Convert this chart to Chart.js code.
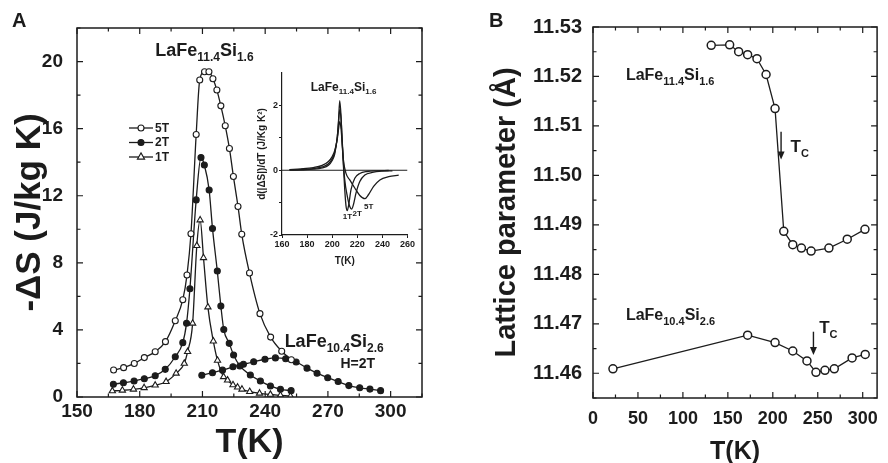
<!DOCTYPE html>
<html>
<head>
<meta charset="utf-8">
<script src="https://cdn.jsdelivr.net/npm/chart.js@4.4.0/dist/chart.umd.min.js"></script>
<style>
    html, body { margin: 0; padding: 0; background: #fff; }
    #wrap { position: relative; width: 888px; height: 463px; overflow: hidden; background: #fff; }
    canvas { position: absolute; }
    #chartA { left: 0; top: 0; }
    #inset { left: 250px; top: 62px; }
    #chartB { left: 444px; top: 0; }
</style>
</head>
<body>
<div id="wrap">
    <canvas id="chartA" width="444" height="463"></canvas>
    <canvas id="inset" width="188" height="210"></canvas>
    <canvas id="chartB" width="444" height="463"></canvas>
</div>
<script>
// ---- Panel A: -dS vs T (LaFe11.4Si1.6 at 5T / 2T / 1T, LaFe10.4Si2.6 at 2T)
const temp5T = [167.5, 172.3, 177.4, 182.2, 187.4, 192.3, 197.0, 200.6, 202.6, 204.5, 207.0, 208.7, 211.0, 213.1, 215.0, 216.9, 218.8, 220.9, 222.9, 224.8, 227.0, 228.8, 232.5, 237.5, 242.6, 247.9, 252.5];
const dS5T = [1.61, 1.75, 2.0, 2.35, 2.7, 3.3, 4.55, 5.8, 7.27, 9.73, 15.65, 18.9, 19.39, 19.39, 18.97, 18.3, 17.36, 16.17, 14.82, 13.15, 11.36, 9.7, 7.39, 4.97, 3.57, 2.73, 2.22];

const temp2T = [167.4, 172.2, 177.3, 182.2, 187.4, 192.2, 197.0, 200.6, 202.4, 204.0, 207.0, 209.3, 210.9, 213.2, 214.8, 217.1, 218.8, 220.2, 222.8, 224.9, 227.9, 232.9, 237.7, 242.5, 247.3, 252.4];
const dS2T = [0.76, 0.85, 0.95, 1.09, 1.27, 1.65, 2.4, 3.24, 4.4, 6.45, 11.75, 14.28, 13.83, 12.34, 10.05, 7.51, 5.42, 4.02, 3.2, 2.5, 1.85, 1.31, 0.95, 0.66, 0.46, 0.38];

const temp1T = [166.9, 171.7, 177.0, 182.1, 187.4, 192.6, 197.4, 201.3, 202.9, 205.3, 207.3, 208.9, 210.5, 212.6, 215.2, 217.2, 220.1, 222.0, 224.6, 226.8, 228.9, 232.6, 237.3, 242.5, 247.3, 252.1];
const dS1T = [0.36, 0.40, 0.46, 0.55, 0.70, 0.91, 1.41, 2.0, 2.7, 4.39, 9.02, 10.55, 8.3, 5.36, 3.33, 2.18, 1.2, 1.0, 0.72, 0.58, 0.46, 0.32, 0.22, 0.15, 0.1, 0.05];

const temp104 = [209.7, 214.8, 219.6, 224.6, 229.6, 234.5, 239.9, 244.9, 249.8, 254.8, 260.0, 264.8, 269.9, 274.9, 280.0, 285.2, 290.1, 295.2];
const dS104 = [1.3, 1.45, 1.6, 1.8, 1.95, 2.1, 2.25, 2.33, 2.28, 2.09, 1.72, 1.42, 1.15, 0.92, 0.68, 0.55, 0.47, 0.38];

const ticksAx = [150, 180, 210, 240, 270, 300];
const ticksAy = [0, 4, 8, 12, 16, 20];

// ---- Inset: d|dS|/dT vs T
const insetT1T = [166, 175, 185, 192, 197, 200, 202, 204, 205, 206, 207, 208, 209, 210, 211, 212, 213, 215, 218, 222, 228, 235, 245];
const insetD1T = [0, 0.01, 0.03, 0.07, 0.15, 0.3, 0.5, 1.0, 1.5, 2.15, 1.7, 0.8, 0.1, -0.6, -1.1, -1.25, -1.1, -0.6, -0.25, -0.1, -0.04, -0.02, -0.01];
const insetT2T = [166, 175, 185, 192, 197, 200, 202, 204, 205, 206, 207, 208, 209, 210, 212, 214, 215.5, 217, 219, 222, 226, 232, 240, 248];
const insetD2T = [0.01, 0.02, 0.05, 0.1, 0.2, 0.35, 0.55, 1.0, 1.45, 1.87, 1.6, 0.9, 0.2, -0.3, -0.8, -1.12, -1.2, -1.05, -0.7, -0.35, -0.15, -0.07, -0.03, -0.02];
const insetT5T = [166, 175, 185, 192, 197, 200, 202, 204, 205, 206, 207, 208, 209, 211, 214, 218, 222, 226, 229, 233, 238, 245, 253];
const insetD5T = [0.02, 0.04, 0.08, 0.15, 0.27, 0.42, 0.6, 0.95, 1.25, 1.5, 1.3, 0.8, 0.3, -0.1, -0.3, -0.55, -0.78, -0.88, -0.75, -0.5, -0.3, -0.2, -0.15];
const insetZeroT = [160, 260];
const insetZeroD = [0, 0];

const ticksInsetX = [160, 180, 200, 220, 240, 260];
const ticksInsetY = [-2, -1, 0, 1, 2];

// ---- Panel B: lattice parameter vs T
const tempB114 = [131.5, 152, 162, 172, 182.4, 192.5, 202.5, 212.2, 222.2, 231.8, 242.6, 262.4, 282.8, 302.5];
const latB114 = [11.5263, 11.5264, 11.5250, 11.5244, 11.5236, 11.5204, 11.5135, 11.4887, 11.4860, 11.4853, 11.4847, 11.4853, 11.4871, 11.4891];
const tempB104 = [22.2, 172, 202.5, 222.2, 238, 248, 258, 268.4, 288.2, 302.8];
const latB104 = [11.4609, 11.4677, 11.4662, 11.4645, 11.4625, 11.4602, 11.4606, 11.4609, 11.4631, 11.4638];

const ticksBx = [0, 50, 100, 150, 200, 250, 300];
const ticksBy = [11.46, 11.47, 11.48, 11.49, 11.50, 11.51, 11.52, 11.53];

const INK = '#1c1c1c';
const FONT = '"Liberation Sans", Arial, Helvetica, sans-serif';
Chart.defaults.font.family = FONT;
Chart.defaults.font.weight = 'bold';
Chart.defaults.color = INK;

function pts(xs, ys) {
    return xs.map((x, i) => ({ x: x, y: ys[i] }));
}

function fixTicks(values) {
    return scale => { scale.ticks = values.map(v => ({ value: v })); };
}

function richText(ctx, x, y, parts, size) {
    let cx = x;
    parts.forEach(([txt, sub]) => {
        const s = sub ? Math.round(size * 0.66) : size;
        ctx.font = `bold ${s}px ${FONT}`;
        ctx.fillText(txt, cx, sub ? y + size * 0.28 : y);
        cx += ctx.measureText(txt).width;
    });
}

function marker(ctx, style, r, x, y, fill) {
    ctx.beginPath();
    if (style === 'triangle') {
        ctx.moveTo(x, y - r * 1.15);
        ctx.lineTo(x + r, y + r * 0.6);
        ctx.lineTo(x - r, y + r * 0.6);
        ctx.closePath();
    } else {
        ctx.arc(x, y, r, 0, Math.PI * 2);
    }
    ctx.fillStyle = fill;
    ctx.fill();
    ctx.stroke();
}

// box round the plot with inward major and minor ticks on all four sides
function drawFrame(chart, f) {
    const ctx = chart.ctx;
    const a = chart.chartArea;
    const xs = chart.scales.x;
    const ys = chart.scales.y;
    const marks = (scale, step) => {
        const major = scale.ticks.map(t => t.value);
        const out = [];
        for (let v = scale.min; v <= scale.max + step / 1000; v += step) {
            const isMajor = major.some(m => Math.abs(m - v) < step / 1000);
            out.push({ p: scale.getPixelForValue(v), len: isMajor ? f.major : f.minor });
        }
        return out;
    };
    ctx.strokeStyle = INK;
    ctx.lineWidth = 1.5;
    ctx.strokeRect(a.left, a.top, a.right - a.left, a.bottom - a.top);
    ctx.lineWidth = 1.2;
    ctx.beginPath();
    marks(xs, f.minorX).forEach(({ p, len }) => {
        ctx.moveTo(p, a.bottom); ctx.lineTo(p, a.bottom - len);
        ctx.moveTo(p, a.top); ctx.lineTo(p, a.top + len);
    });
    marks(ys, f.minorY).forEach(({ p, len }) => {
        ctx.moveTo(a.left, p); ctx.lineTo(a.left + len, p);
        ctx.moveTo(a.right, p); ctx.lineTo(a.right - len, p);
    });
    ctx.stroke();
}

// frame, labels, arrows, legend and panel letter
const decor = {
    id: 'decor',
    afterDraw(chart) {
        const opts = chart.config.options.decor || {};
        const ctx = chart.ctx;
        const x = chart.scales.x;
        const y = chart.scales.y;
        ctx.save();
        if (opts.frame) drawFrame(chart, opts.frame);
        ctx.fillStyle = INK;
        ctx.strokeStyle = INK;
        ctx.textBaseline = 'alphabetic';
        ctx.textAlign = 'left';
        (opts.texts || []).forEach(n => {
            ctx.fillStyle = INK;
            richText(ctx, x.getPixelForValue(n.x), y.getPixelForValue(n.y), n.parts, n.size);
        });
        (opts.arrows || []).forEach(ar => {
            const px = x.getPixelForValue(ar.x);
            const y0 = y.getPixelForValue(ar.from);
            const y1 = y.getPixelForValue(ar.to);
            ctx.lineWidth = 1.4;
            ctx.beginPath();
            ctx.moveTo(px, y0);
            ctx.lineTo(px, y1 - 6);
            ctx.stroke();
            ctx.beginPath();
            ctx.moveTo(px - 3.5, y1 - 8);
            ctx.lineTo(px + 3.5, y1 - 8);
            ctx.lineTo(px, y1);
            ctx.closePath();
            ctx.fill();
        });
        if (opts.legend) {
            const lg = opts.legend;
            lg.items.forEach((idx, row) => {
                const ds = chart.data.datasets[idx];
                const cy = lg.y + row * lg.gap;
                ctx.strokeStyle = INK;
                ctx.lineWidth = 1.3;
                ctx.beginPath();
                ctx.moveTo(lg.x, cy);
                ctx.lineTo(lg.x + lg.len, cy);
                ctx.stroke();
                ctx.lineWidth = 1.1;
                marker(ctx, ds.pointStyle, ds.pointRadius, lg.x + lg.len / 2, cy, ds.pointBackgroundColor);
                ctx.fillStyle = INK;
                ctx.font = `bold ${lg.size}px ${FONT}`;
                ctx.textBaseline = 'middle';
                ctx.fillText(ds.label, lg.x + lg.len + 2, cy + 0.5);
                ctx.textBaseline = 'alphabetic';
            });
        }
        if (opts.letter) {
            ctx.fillStyle = INK;
            ctx.font = `bold 20px ${FONT}`;
            ctx.fillText(opts.letter.text, opts.letter.x, opts.letter.y);
        }
        ctx.restore();
    }
};

function series(label, xs, ys, style) {
    return Object.assign({
        label: label,
        data: pts(xs, ys),
        borderColor: INK,
        borderWidth: 1.3,
        pointBorderColor: INK,
        pointBorderWidth: 1.1,
        pointRadius: 3,
        pointStyle: 'circle',
        pointBackgroundColor: '#fff',
        cubicInterpolationMode: 'monotone',
        fill: false
    }, style);
}

const common = {
    responsive: false,
    animation: false,
    devicePixelRatio: 1,
    events: []
};

// ---- Panel A
new Chart(document.getElementById('chartA').getContext('2d'), {
    type: 'line',
    data: {
        datasets: [
            series('5T', temp5T, dS5T, {}),
            series('2T', temp2T, dS2T, { pointBackgroundColor: INK }),
            series('1T', temp1T, dS1T, { pointStyle: 'triangle', pointRadius: 3.6 }),
            series('LaFe10.4Si2.6', temp104, dS104, { pointBackgroundColor: INK })
        ]
    },
    options: Object.assign({}, common, {
        layout: { padding: { left: 0, top: 28, right: 22, bottom: 0 } },
        scales: {
            x: {
                type: 'linear', min: 150, max: 315,
                afterBuildTicks: fixTicks(ticksAx),
                afterFit: s => { s.height = 66; },
                grid: { display: false, drawTicks: false },
                border: { display: false },
                ticks: { font: { size: 19, weight: 'bold' }, padding: 3, maxRotation: 0 },
                title: { display: true, text: 'T(K)', font: { size: 34, weight: 'bold', lineHeight: 1.2 }, padding: 0 }
            },
            y: {
                type: 'linear', min: 0, max: 22,
                afterBuildTicks: fixTicks(ticksAy),
                afterFit: s => { s.width = 77; },
                grid: { display: false, drawTicks: false },
                border: { display: false },
                ticks: { font: { size: 19, weight: 'bold' }, padding: 14 },
                title: { display: true, text: '-\u0394S (J/kg K)', font: { size: 35, weight: 'bold', lineHeight: 1.2 }, padding: { top: 9, bottom: 0 } }
            }
        },
        plugins: { legend: { display: false }, tooltip: { enabled: false } },
        decor: {
            frame: { major: 6, minor: 3.5, minorX: 15, minorY: 2 },
            letter: { text: 'A', x: 12, y: 27 },
            legend: { items: [0, 1, 2], x: 129, y: 128, gap: 14.5, len: 24, size: 12 },
            texts: [
                { x: 187.4, y: 20.35, size: 18, parts: [['LaFe', 0], ['11.4', 1], ['Si', 0], ['1.6', 1]] },
                { x: 249.3, y: 3.0, size: 18, parts: [['LaFe', 0], ['10.4', 1], ['Si', 0], ['2.6', 1]] },
                { x: 276.0, y: 1.73, size: 14, parts: [['H=2T', 0]] }
            ]
        }
    }),
    plugins: [decor]
});

// ---- Inset
new Chart(document.getElementById('inset').getContext('2d'), {
    type: 'line',
    data: {
        datasets: [
            series('zero', insetZeroT, insetZeroD, { pointRadius: 0, borderWidth: 1.1 }),
            series('1T', insetT1T, insetD1T, { pointRadius: 0 }),
            series('2T', insetT2T, insetD2T, { pointRadius: 0 }),
            series('5T', insetT5T, insetD5T, { pointRadius: 0 })
        ]
    },
    options: Object.assign({}, common, {
        layout: { padding: { left: 0, top: 11, right: 30.5, bottom: 0 } },
        scales: {
            x: {
                type: 'linear', min: 160, max: 260,
                afterBuildTicks: fixTicks(ticksInsetX),
                afterFit: s => { s.height = 37; },
                grid: { drawOnChartArea: false, drawTicks: true, tickLength: 3, color: INK, lineWidth: 1 },
                border: { display: true, color: INK, width: 1.2 },
                ticks: { font: { size: 9, weight: 'bold' }, padding: 1, maxRotation: 0 },
                title: { display: true, text: 'T(K)', font: { size: 10, weight: 'bold', lineHeight: 1.2 }, padding: { top: 0, bottom: 5 } }
            },
            y: {
                type: 'linear', min: -2, max: 3,
                afterBuildTicks: fixTicks(ticksInsetY),
                afterFit: s => { s.width = 32; },
                grid: { drawOnChartArea: false, drawTicks: true, tickLength: 3, color: INK, lineWidth: 1 },
                border: { display: true, color: INK, width: 1.2 },
                ticks: { font: { size: 9, weight: 'bold' }, padding: 1, callback: v => (v % 2 === 0 ? v : '') },
                title: { display: true, text: 'd(|\u0394S|)/dT (J/Kg K\u00B2)', font: { size: 10, weight: 'bold', lineHeight: 1.2 }, padding: { top: 6.5, bottom: 0 } }
            }
        },
        plugins: { legend: { display: false }, tooltip: { enabled: false } },
        decor: {
            texts: [
                { x: 182.9, y: 2.45, size: 12, parts: [['LaFe', 0], ['11.4', 1], ['Si', 0], ['1.6', 1]] },
                { x: 208.4, y: -1.52, size: 8, parts: [['1T', 0]] },
                { x: 216.2, y: -1.4, size: 8, parts: [['2T', 0]] },
                { x: 225.3, y: -1.2, size: 8, parts: [['5T', 0]] }
            ]
        }
    }),
    plugins: [decor]
});

// ---- Panel B
new Chart(document.getElementById('chartB').getContext('2d'), {
    type: 'line',
    data: {
        datasets: [
            series('LaFe11.4Si1.6', tempB114, latB114, { pointRadius: 4, pointBorderWidth: 1.5, cubicInterpolationMode: 'default', tension: 0 }),
            series('LaFe10.4Si2.6', tempB104, latB104, { pointRadius: 4, pointBorderWidth: 1.5, cubicInterpolationMode: 'default', tension: 0 })
        ]
    },
    options: Object.assign({}, common, {
        layout: { padding: { left: 0, top: 27, right: 1, bottom: 0 } },
        scales: {
            x: {
                type: 'linear', min: 0, max: 316,
                afterBuildTicks: fixTicks(ticksBx),
                afterFit: s => { s.height = 65; },
                grid: { display: false, drawTicks: false },
                border: { display: false },
                ticks: { font: { size: 18, weight: 'bold' }, padding: 10, maxRotation: 0 },
                title: { display: true, text: 'T(K)', font: { size: 25, weight: 'bold', lineHeight: 0.85 }, padding: 0 }
            },
            y: {
                type: 'linear', min: 11.455, max: 11.53,
                afterBuildTicks: fixTicks(ticksBy),
                afterFit: s => { s.width = 149; },
                grid: { display: false, drawTicks: false },
                border: { display: false },
                ticks: { font: { size: 20, weight: 'bold' }, padding: 11, callback: v => v.toFixed(2) },
                title: { display: true, text: 'Lattice parameter (\u00C5)', font: { size: 29, weight: 'bold', lineHeight: 1.2 }, padding: { top: 46, bottom: 0 } }
            }
        },
        plugins: { legend: { display: false }, tooltip: { enabled: false } },
        decor: {
            frame: { major: 6, minor: 3.5, minorX: 25, minorY: 0.005 },
            letter: { text: 'B', x: 45, y: 27 },
            texts: [
                { x: 36.6, y: 11.5192, size: 16, parts: [['LaFe', 0], ['11.4', 1], ['Si', 0], ['1.6', 1]] },
                { x: 36.6, y: 11.4707, size: 16, parts: [['LaFe', 0], ['10.4', 1], ['Si', 0], ['2.6', 1]] },
                { x: 219.7, y: 11.5047, size: 17, parts: [['T', 0], ['C', 1]] },
                { x: 251.6, y: 11.4681, size: 17, parts: [['T', 0], ['C', 1]] }
            ],
            arrows: [
                { x: 209.2, from: 11.5088, to: 11.5032 },
                { x: 245.2, from: 11.4684, to: 11.4637 }
            ]
        }
    }),
    plugins: [decor]
});
</script>
</body>
</html>
